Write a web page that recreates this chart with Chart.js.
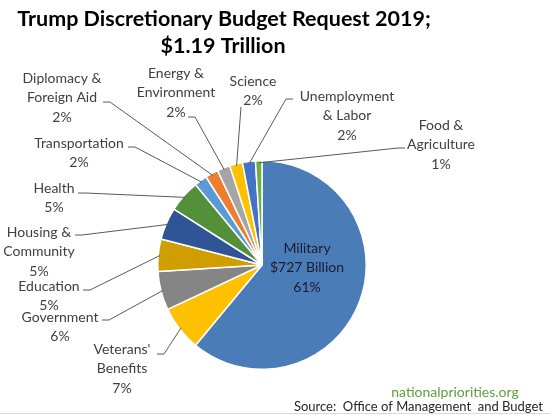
<!DOCTYPE html>
<html>
<head>
<meta charset="utf-8">
<script src="https://cdn.jsdelivr.net/npm/chart.js@4/dist/chart.umd.min.js"></script>
<style>
  html, body { margin: 0; padding: 0; background: #fff; }
  #wrap { width: 550px; height: 415px; }
</style>
</head>
<body>
<div id="wrap"><canvas id="budgetPie" width="550" height="415"></canvas></div>
<script>
// --- DATOS ---
const categories = ['Military', "Veterans' Benefits", 'Government', 'Education', 'Housing & Community',
  'Health', 'Transportation', 'Diplomacy & Foreign Aid', 'Energy & Environment', 'Science',
  'Unemployment & Labor', 'Food & Agriculture'];
const percents = [61, 7, 6, 5, 5, 5, 2, 2, 2, 2, 2, 1];
const labelLines = [
  ['Military', '$727 Billion', '61%'],
  ["Veterans'", 'Benefits', '7%'],
  ['Government', '6%'],
  ['Education', '5%'],
  ['Housing &', 'Community', '5%'],
  ['Health', '5%'],
  ['Transportation', '2%'],
  ['Diplomacy &', 'Foreign Aid', '2%'],
  ['Energy &', 'Environment', '2%'],
  ['Science', '2%'],
  ['Unemployment', '& Labor', '2%'],
  ['Food &', 'Agriculture', '1%']
];
const sliceColors = ['#4a7db8', '#ffc000', '#858585', '#d09e00', '#2f5597', '#548f3a',
  '#5b9bd5', '#ed7d31', '#a5a5a5', '#ffc000', '#4472c4', '#70ad47'];

// --- POSICIONES DE ETIQUETAS (texto centrado, punto de anclaje de la guia) ---
const labelLayout = [
  { tx: 307, ty: 248, ax: null, ay: null, dir: 0 },
  { tx: 122, ty: 349, ax: 157, ay: 354, dir: 1 },
  { tx: 60, ty: 317, ax: 102, ay: 320, dir: 1 },
  { tx: 49, ty: 286, ax: 83, ay: 290, dir: 1 },
  { tx: 39, ty: 232, ax: 75, ay: 235, dir: 1 },
  { tx: 54, ty: 188, ax: 78, ay: 193, dir: 1 },
  { tx: 79, ty: 143, ax: 128, ay: 147, dir: 1 },
  { tx: 62, ty: 78, ax: 103, ay: 102, dir: 1 },
  { tx: 176, ty: 73, ax: 188, ay: 117, dir: 1 },
  { tx: 253, ty: 81, ax: 241, ay: 107, dir: 0 },
  { tx: 347, ty: 96, ax: 293, ay: 99, dir: -1 },
  { tx: 441, ty: 125, ax: 405, ay: 148, dir: -1 }
];

const LINE_H = 19.5;
const FONT = 'Lato, "Open Sans", sans-serif';

// --- PLUGIN: titulo, etiquetas con guias y fuente ---
const pieLabels = {
  id: 'pieLabels',
  afterDraw(chart) {
    const ctx = chart.ctx;
    const arcs = chart.getDatasetMeta(0).data;
    ctx.save();

    // titulo
    ctx.fillStyle = '#000';
    ctx.font = 'bold 21.5px ' + FONT;
    ctx.textAlign = 'center';
    ctx.textBaseline = 'middle';
    ctx.fillText('Trump Discretionary Budget Request 2019;', 224, 19);
    ctx.fillText('$1.19 Trillion', 223, 46);

    // guias
    ctx.strokeStyle = '#595959';
    ctx.lineWidth = 1;
    arcs.forEach((arc, i) => {
      const L = labelLayout[i];
      if (L.ax === null) return;
      const p = arc.getProps(['x', 'y', 'startAngle', 'endAngle', 'outerRadius'], true);
      const mid = (p.startAngle + p.endAngle) / 2;
      const r = p.outerRadius - 2;
      const ex = p.x + Math.cos(mid) * r;
      const ey = p.y + Math.sin(mid) * r;
      ctx.beginPath();
      ctx.moveTo(L.ax, L.ay);
      if (L.dir !== 0) ctx.lineTo(L.ax + 7 * L.dir, L.ay);
      ctx.lineTo(ex, ey);
      ctx.stroke();
    });

    // textos
    ctx.font = '14px ' + FONT;
    labelLines.forEach((lines, i) => {
      const L = labelLayout[i];
      ctx.fillStyle = i === 0 ? '#1a1a2a' : '#404040';
      lines.forEach((t, k) => ctx.fillText(t, L.tx, L.ty + k * LINE_H));
    });

    // fuente
    ctx.font = '14px ' + FONT;
    ctx.fillStyle = '#5e9e3c';
    ctx.fillText('nationalpriorities.org', 455, 392);
    ctx.font = '13px ' + FONT;
    ctx.fillStyle = '#262626';
    ctx.textAlign = 'right';
    ctx.fillText('Source:  Office of Management  and Budget', 543, 407);

    ctx.strokeStyle = '#d9d9d9';
    ctx.beginPath();
    ctx.moveTo(0, 413.5);
    ctx.lineTo(550, 413.5);
    ctx.stroke();
    ctx.restore();
  }
};

new Chart(document.getElementById('budgetPie'), {
  type: 'pie',
  data: {
    labels: categories,
    datasets: [{
      data: percents,
      backgroundColor: sliceColors,
      borderColor: '#ffffff',
      borderWidth: 1.5
    }]
  },
  options: {
    responsive: false,
    animation: false,
    layout: { padding: { left: 157, right: 183, top: 160, bottom: 45 } },
    plugins: {
      legend: { display: false },
      title: { display: false },
      tooltip: { enabled: false }
    }
  },
  plugins: [pieLabels]
});
</script>
</body>
</html>
